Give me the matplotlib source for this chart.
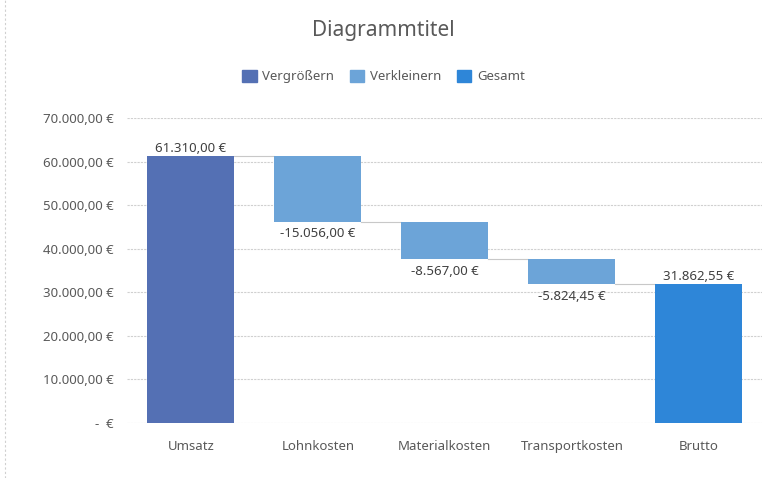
import matplotlib
matplotlib.use("Agg")
import matplotlib.pyplot as plt
from matplotlib.patches import Patch
from matplotlib.lines import Line2D

categories = ["Umsatz", "Lohnkosten", "Materialkosten", "Transportkosten", "Brutto"]
values = [61310.00, -15056.00, -8567.00, -5824.45, 31862.55]
kinds = ["inc", "dec", "dec", "dec", "total"]
yticks = [0, 10000, 20000, 30000, 40000, 50000, 60000, 70000]

COLORS = {"inc": "#5470b4", "dec": "#6ca4d8", "total": "#2e86d8"}
LEGEND = [("inc", "Vergrößern"), ("dec", "Verkleinern"), ("total", "Gesamt")]
TXT = "#595959"

plt.rcParams["font.family"] = ["Noto Sans", "DejaVu Sans"]


def euro(v):
    if v == 0:
        return "-  €"
    s = f"{v:,.2f}".replace(",", "X").replace(".", ",").replace("X", ".")
    return s + " €"


fig = plt.figure(figsize=(7.67, 4.78), dpi=100)
ax = fig.add_axes([0.166, 0.115, 0.828, 0.638])

# waterfall geometry
bottoms, tops = [], []
running = 0.0
for v, k in zip(values, kinds):
    if k == "total":
        b, t = 0.0, v
        running = v
    else:
        start = running
        running += v
        b, t = min(start, running), max(start, running)
    bottoms.append(b)
    tops.append(t)

x = list(range(len(categories)))
w = 0.685
ax.bar(x, [t - b for b, t in zip(bottoms, tops)], bottom=bottoms, width=w,
       color=[COLORS[k] for k in kinds], zorder=3)

# connectors
level = 0.0
for i, (v, k) in enumerate(zip(values, kinds)):
    level = v if k == "total" else level + v
    if i < len(values) - 1:
        ax.plot([i + w / 2, i + 1 - w / 2], [level, level], color="#c8c8c8",
                lw=0.8, zorder=2)

# data labels
for i, (v, k) in enumerate(zip(values, kinds)):
    if v >= 0:
        ax.text(i, tops[i] + 300, euro(v), ha="center", va="bottom",
                fontsize=9.5, color="#404040")
    else:
        ax.text(i, bottoms[i] - 1300, euro(v), ha="center", va="top",
                fontsize=9.5, color="#404040")

ax.set_ylim(0, 70000)
ax.set_xlim(-0.5, len(categories) - 0.5)
ax.set_yticks(yticks)
ax.set_yticklabels([euro(t) for t in yticks])
ax.set_xticks(x)
ax.set_xticklabels(categories)
ax.tick_params(length=0, labelsize=9.5, labelcolor=TXT, pad=12)
ax.tick_params(axis="y", pad=10)
ax.yaxis.grid(True, color="#d0d0d0", lw=0.8, linestyle=(0, (2, 1)), zorder=0)
for s in ax.spines.values():
    s.set_visible(False)

fig.text(0.5, 0.937, "Diagrammtitel", ha="center", va="center",
         fontsize=15, color=TXT)
handles = [Patch(color=COLORS[k], label=l) for k, l in LEGEND]
fig.legend(handles=handles, loc="center", bbox_to_anchor=(0.5, 0.84), ncol=3,
           frameon=False, fontsize=9.5, labelcolor=TXT, handlelength=1.1,
           handleheight=1.1, handletextpad=0.4, columnspacing=1.2)

fig.add_artist(Line2D([0.007, 0.007], [0.0, 1.0], transform=fig.transFigure,
                      color="#d0d0d0", lw=0.8, linestyle=(0, (2, 2))))

fig.savefig("out.png", dpi=100)
